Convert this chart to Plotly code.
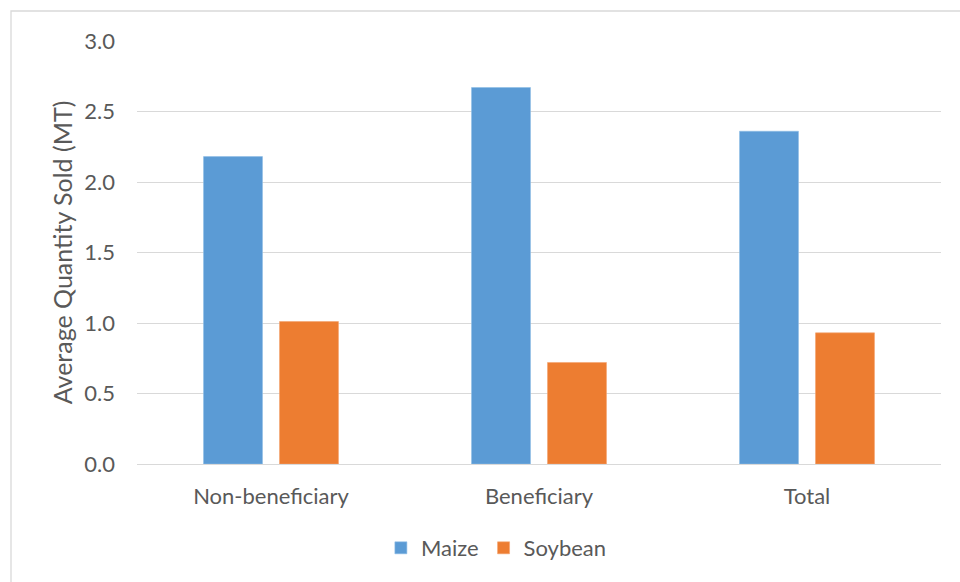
import plotly.graph_objects as go

categories = ["Non-beneficiary", "Beneficiary", "Total"]
maize = [2.18, 2.67, 2.36]
soybean = [1.01, 0.72, 0.93]
y_ticks = [0.0, 0.5, 1.0, 1.5, 2.0, 2.5, 3.0]

W, H = 960, 582
L, R, T, B = 137, 19, 41, 118
pw, ph = W - L - R, H - T - B

def px_x(px):
    return (px - L) / pw

def px_y(py):
    return (H - B - py) / ph

font_family = "Lato, 'Open Sans', sans-serif"
text_color = "#595959"
fs = 22

fig = go.Figure()
fig.add_trace(go.Bar(name="Maize", x=categories, y=maize,
                     marker=dict(color="#5b9bd5", line=dict(color="#8fbde6", width=0.6))))
fig.add_trace(go.Bar(name="Soybean", x=categories, y=soybean,
                     marker=dict(color="#ed7d31", line=dict(color="#f3a36e", width=0.6))))

fig.update_layout(
    width=W, height=H,
    margin=dict(l=L, r=R, t=T, b=B),
    paper_bgcolor="white", plot_bgcolor="white",
    barmode="group", bargap=0.433, bargroupgap=0.224,
    font=dict(family=font_family, color=text_color, size=fs),
    xaxis=dict(showgrid=False, showline=False, ticks="",
               tickfont=dict(size=fs, color=text_color), ticklabelstandoff=17),
    yaxis=dict(range=[0, 3.0], tickvals=y_ticks, tickformat=".1f",
               showgrid=True, gridcolor="#d9d9d9", gridwidth=1.3,
               zeroline=True, zerolinecolor="#d9d9d9", zerolinewidth=1.3,
               showline=False, ticks="", ticklabelstandoff=21,
               tickfont=dict(size=fs, color=text_color),
               title=dict(text="Average Quantity Sold (MT)", font=dict(size=25, color=text_color), standoff=4)),
    legend=dict(orientation="h", x=0.447, xanchor="center", y=px_y(548), yanchor="middle",
                font=dict(size=fs, color=text_color), itemwidth=30, traceorder="normal"),
    shapes=[dict(type="rect", xref="paper", yref="paper",
                 x0=px_x(11), x1=px_x(975), y0=px_y(600), y1=px_y(11),
                 line=dict(color="#d9d9d9", width=1.3), fillcolor="rgba(0,0,0,0)", layer="below")],
)

fig.write_html("out.html")
